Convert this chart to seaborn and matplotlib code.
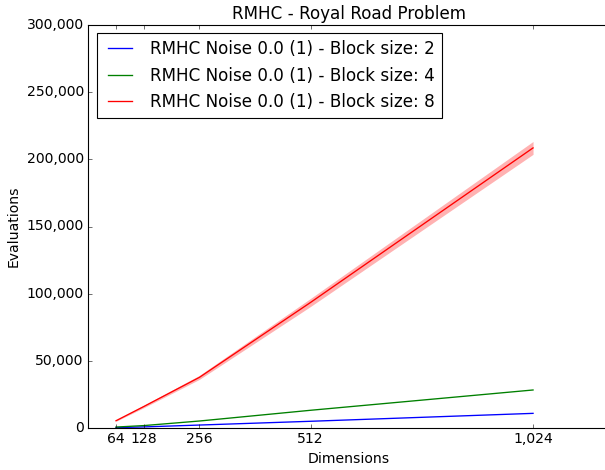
import matplotlib
matplotlib.use("Agg")
import matplotlib.pyplot as plt
import matplotlib.ticker as mticker
import numpy as np
import pandas as pd
import seaborn as sns

dimensions = [64, 128, 256, 512, 1024]
series_names = [
    "RMHC Noise 0.0 (1) - Block size: 2",
    "RMHC Noise 0.0 (1) - Block size: 4",
    "RMHC Noise 0.0 (1) - Block size: 8",
]
evals_block2 = [300, 800, 2200, 5000, 10900]
evals_block4 = [700, 1800, 5200, 13200, 28300]
evals_block8 = [5400, 16000, 37700, 93500, 208500]
band_block8 = [400, 900, 1500, 3000, 4800]
colors = ["#0000ff", "#008000", "#ff0000"]
xtick_values = [64, 128, 256, 512, 1024]

plt.style.use("classic")
plt.rcParams["figure.facecolor"] = "white"
plt.rcParams["savefig.facecolor"] = "white"
plt.rcParams["font.family"] = ["DejaVu Sans"]
plt.rcParams["font.size"] = 12.6

rows = []
for name, vals in zip(series_names, [evals_block2, evals_block4, evals_block8]):
    for d, v in zip(dimensions, vals):
        rows.append({"Dimensions": d, "Evaluations": v, "Series": name})
df = pd.DataFrame(rows)

fig = plt.figure(figsize=(605 / 80, 470 / 80), dpi=80)
ax = fig.add_axes([88.2 / 605, 1 - 428 / 470, 521.3 / 605, (428 - 25) / 470])

sns.lineplot(data=df, x="Dimensions", y="Evaluations", hue="Series",
             palette=colors, hue_order=series_names, ax=ax, legend=False,
             linewidth=1.2)
lo = np.array(evals_block8) - np.array(band_block8)
hi = np.array(evals_block8) + np.array(band_block8)
ax.fill_between(dimensions, lo, hi, color="#ff0000", alpha=0.3, linewidth=0)

ax.set_xlim(0, 1200)
ax.set_ylim(0, 300000)
ax.set_xticks(xtick_values)
ax.yaxis.set_major_locator(mticker.MultipleLocator(50000))
fmt = mticker.FuncFormatter(lambda v, p: f"{int(v):,}")
ax.xaxis.set_major_formatter(fmt)
ax.yaxis.set_major_formatter(fmt)
ax.set_xlabel("Dimensions")
ax.set_ylabel("Evaluations")
ax.set_title("RMHC - Royal Road Problem")

handles = [plt.Line2D([], [], color=c, linewidth=1.2) for c in colors]
ax.legend(handles, series_names, loc="upper left")

fig.savefig("out.png", dpi=80)
